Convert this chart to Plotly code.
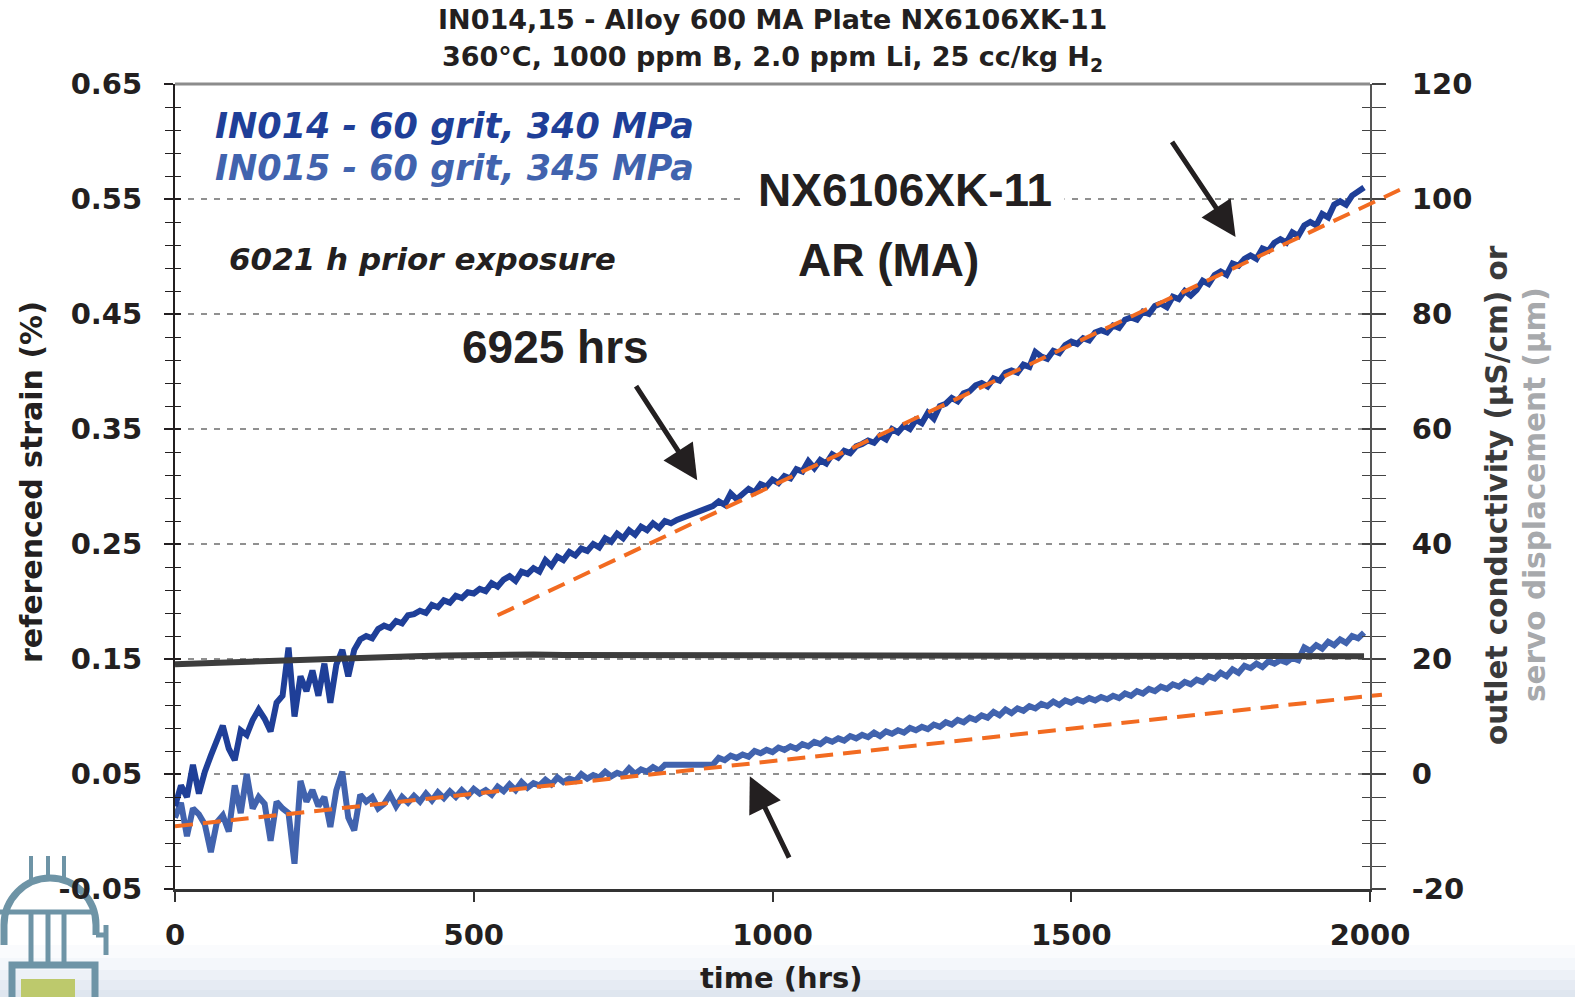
import plotly.graph_objects as go

# ---------------- data ----------------
# IN014 strain (%) - two segments (data gap between 840 h and 900 h)
t14_a = list(range(0, 850, 10))
in014_a = [0.022, 0.040, 0.030, 0.058, 0.033, 0.052, 0.066, 0.078, 0.092, 0.072,
           0.062, 0.088, 0.084, 0.097, 0.106, 0.098, 0.087, 0.112, 0.118, 0.160,
           0.100, 0.135, 0.122, 0.140, 0.118, 0.146, 0.112, 0.145, 0.158, 0.135,
           0.158, 0.167, 0.170, 0.168, 0.176, 0.179, 0.177, 0.183, 0.181, 0.188,
           0.189, 0.192, 0.190, 0.197, 0.195, 0.201, 0.199, 0.205, 0.203, 0.208,
           0.207, 0.211, 0.209, 0.216, 0.213, 0.219, 0.222, 0.218, 0.226, 0.224,
           0.229, 0.226, 0.236, 0.231, 0.239, 0.236, 0.243, 0.240, 0.246, 0.244,
           0.250, 0.247, 0.255, 0.252, 0.259, 0.255, 0.262, 0.258, 0.265, 0.262,
           0.268, 0.264, 0.270, 0.268, 0.271]
t14_b = list(range(900, 2000, 10))
in014_b = [0.283, 0.287, 0.284, 0.294, 0.289, 0.294, 0.298, 0.295, 0.302, 0.300,
           0.306, 0.303, 0.309, 0.307, 0.315, 0.313, 0.322, 0.316, 0.323, 0.320,
           0.328, 0.325, 0.331, 0.329, 0.335, 0.337, 0.340, 0.338, 0.344, 0.341,
           0.350, 0.347, 0.353, 0.350, 0.358, 0.355, 0.364, 0.359, 0.370, 0.372,
           0.377, 0.374, 0.381, 0.383, 0.388, 0.390, 0.387, 0.394, 0.392, 0.399,
           0.401, 0.399, 0.406, 0.404, 0.417, 0.413, 0.411, 0.418, 0.416, 0.423,
           0.426, 0.424, 0.429, 0.427, 0.434, 0.436, 0.434, 0.440, 0.438, 0.445,
           0.447, 0.445, 0.452, 0.450, 0.457, 0.459, 0.456, 0.465, 0.463, 0.470,
           0.466, 0.471, 0.479, 0.476, 0.484, 0.487, 0.484, 0.494, 0.492, 0.498,
           0.501, 0.498, 0.507, 0.505, 0.512, 0.515, 0.512, 0.521, 0.518, 0.527,
           0.530, 0.527, 0.537, 0.534, 0.545, 0.548, 0.545, 0.553, 0.556, 0.560]

# IN015 strain (%) - two segments (data gap between 820 h and 900 h)
t15_a = list(range(0, 830, 10))
in015_a = [0.012, 0.025, -0.004, 0.020, 0.015, 0.006, -0.018, 0.008, 0.014, 0.000,
           0.040, 0.016, 0.050, 0.020, 0.030, 0.024, -0.008, 0.026, 0.020, 0.016,
           -0.028, 0.044, 0.026, 0.036, 0.022, 0.030, 0.004, 0.036, 0.052, 0.012,
           0.001, 0.032, 0.026, 0.030, 0.020, 0.024, 0.032, 0.022, 0.030, 0.025,
           0.031, 0.026, 0.033, 0.027, 0.034, 0.029, 0.035, 0.030, 0.036, 0.031,
           0.037, 0.033, 0.036, 0.032, 0.039, 0.035, 0.041, 0.036, 0.043, 0.038,
           0.042, 0.040, 0.045, 0.041, 0.047, 0.043, 0.046, 0.044, 0.050, 0.046,
           0.049, 0.047, 0.052, 0.048, 0.051, 0.049, 0.055, 0.050, 0.054, 0.052,
           0.056, 0.053, 0.058]
t15_b = list(range(900, 2000, 10))
in015_b = [0.058, 0.064, 0.062, 0.066, 0.064, 0.067, 0.065, 0.070, 0.068, 0.071,
           0.069, 0.073, 0.071, 0.074, 0.072, 0.076, 0.074, 0.078, 0.076, 0.080,
           0.078, 0.081, 0.079, 0.083, 0.081, 0.084, 0.082, 0.086, 0.083, 0.087,
           0.085, 0.088, 0.086, 0.090, 0.088, 0.091, 0.089, 0.093, 0.091, 0.095,
           0.093, 0.097, 0.095, 0.099, 0.097, 0.101, 0.099, 0.104, 0.101, 0.106,
           0.103, 0.107, 0.105, 0.109, 0.107, 0.111, 0.109, 0.113, 0.110, 0.114,
           0.112, 0.115, 0.113, 0.116, 0.114, 0.117, 0.115, 0.118, 0.116, 0.120,
           0.118, 0.122, 0.120, 0.124, 0.122, 0.126, 0.124, 0.128, 0.126, 0.130,
           0.128, 0.132, 0.130, 0.135, 0.133, 0.138, 0.135, 0.141, 0.138, 0.144,
           0.142, 0.146, 0.143, 0.148, 0.146, 0.149, 0.147, 0.151, 0.149, 0.160,
           0.157, 0.162, 0.159, 0.165, 0.162, 0.167, 0.164, 0.170, 0.168, 0.173]

# outlet conductivity (uS/cm), right axis
t_cond = [0, 50, 100, 150, 200, 250, 300, 350, 400, 450, 500, 550, 600, 650, 700,
          750, 800, 850, 900, 950, 1000, 1050, 1100, 1150, 1200, 1250, 1300, 1350,
          1400, 1450, 1500, 1550, 1600, 1650, 1700, 1750, 1800, 1850, 1900, 1950, 1990]
cond = [19.1, 19.3, 19.4, 19.6, 19.8, 19.9, 20.1, 20.3, 20.5, 20.6, 20.7, 20.7, 20.8,
        20.7, 20.7, 20.7, 20.6, 20.7, 20.6, 20.7, 20.7, 20.6, 20.6, 20.7, 20.6, 20.6,
        20.6, 20.7, 20.6, 20.6, 20.6, 20.5, 20.6, 20.6, 20.5, 20.6, 20.6, 20.5, 20.6,
        20.5, 20.5]

# linear fits (dashed)
fit14_t = [540, 2050]
fit14_s = [0.188, 0.558]
fit15_t = [0, 2020]
fit15_s = [0.0045, 0.119]

x_ticks = [0, 500, 1000, 1500, 2000]
yl_ticks = [-0.05, 0.05, 0.15, 0.25, 0.35, 0.45, 0.55, 0.65]
yl_text = ["-0.05", "0.05", "0.15", "0.25", "0.35", "0.45", "0.55", "0.65"]
yr_ticks = [-20, 0, 20, 40, 60, 80, 100, 120]
yr_text = ["-20", "0", "20", "40", "60", "80", "100", "120"]

# ---------------- layout helpers ----------------
W, H = 1575, 997
ML, MR, MT, MB = 175, 165, 84, 108
PW = W - ML - MR
PH = H - MT - MB
XD = (1370 - ML) / PW          # main x-domain end (right axis at 1370 px)
X2MAX = 2000 / XD


def PX(x):
    return (x - ML) / PW


def PY(y):
    return (H - MB - y) / PH


C14 = "#1f3f98"
C15 = "#4163ae"
CORG = "#f26b21"
CDK = "#231f20"
TF = "DejaVu Sans"
AF = "Liberation Sans"

fig = go.Figure()

fig.add_trace(go.Scatter(x=t_cond, y=cond, xaxis="x", yaxis="y2", mode="lines",
                         line=dict(color="#3d3d3d", width=6), showlegend=False))
fig.add_trace(go.Scatter(x=t15_a + t15_b, y=in015_a + in015_b, mode="lines",
                         line=dict(color=C15, width=6), showlegend=False))
fig.add_trace(go.Scatter(x=t14_a + t14_b, y=in014_a + in014_b, mode="lines",
                         line=dict(color=C14, width=6), showlegend=False))
fig.add_trace(go.Scatter(x=fit14_t, y=fit14_s, xaxis="x2", yaxis="y", mode="lines",
                         line=dict(color=CORG, width=4, dash="18px,10px"), showlegend=False))
fig.add_trace(go.Scatter(x=fit15_t, y=fit15_s, xaxis="x2", yaxis="y", mode="lines",
                         line=dict(color=CORG, width=4, dash="18px,10px"), showlegend=False))
# dummy traces for tick-only overlay axes
fig.add_trace(go.Scatter(x=[None], y=[None], yaxis="y3", showlegend=False, hoverinfo="skip"))
fig.add_trace(go.Scatter(x=[None], y=[None], yaxis="y4", showlegend=False, hoverinfo="skip"))

tickfont = dict(family=TF, size=29, color=CDK, weight="bold")

fig.update_layout(
    width=W, height=H,
    margin=dict(l=ML, r=MR, t=MT, b=MB),
    paper_bgcolor="#ffffff", plot_bgcolor="rgba(0,0,0,0)",
    showlegend=False,
    xaxis=dict(domain=[0, XD], range=[0, 2000], tickmode="array", tickvals=x_ticks,
               ticks="outside", ticklen=10, tickwidth=2, tickcolor="#333333",
               showline=True, linecolor="#333333", linewidth=3, showgrid=False,
               zeroline=False, tickfont=tickfont, anchor="y", ticklabelstandoff=8),
    xaxis2=dict(domain=[0, 1], range=[0, X2MAX], visible=False, anchor="y"),
    yaxis=dict(range=[-0.05, 0.65], anchor="x", tickmode="array", tickvals=yl_ticks,
               ticktext=yl_text, ticks="outside", ticklen=9, tickwidth=1.5,
               tickcolor=CDK, showline=True, linecolor=CDK, linewidth=2,
               showgrid=False, zeroline=False, tickfont=tickfont,
               ticklabelstandoff=16,
               minor=dict(tickmode="linear", tick0=-0.05, dtick=0.02, ticks="outside",
                          ticklen=8, tickwidth=1.2, tickcolor=CDK, showgrid=False)),
    yaxis2=dict(range=[-20, 120], overlaying="y", side="right", anchor="x",
                tickmode="array", tickvals=yr_ticks, ticktext=yr_text,
                ticks="outside", ticklen=14, tickwidth=1.5, tickcolor="#444444",
                showline=True, linecolor="#555555", linewidth=2, showgrid=False,
                zeroline=False, tickfont=tickfont, ticklabelstandoff=20,
                minor=dict(tickmode="linear", tick0=-20, dtick=4, ticks="outside",
                           ticklen=14, tickwidth=1.2, tickcolor="#444444", showgrid=False)),
    yaxis3=dict(range=[-0.05, 0.65], overlaying="y", side="left", anchor="x",
                tickmode="array", tickvals=yl_ticks, ticks="inside", ticklen=6,
                tickwidth=1.5, tickcolor=CDK, showticklabels=False, showline=False,
                showgrid=False, zeroline=False,
                minor=dict(tickmode="linear", tick0=-0.05, dtick=0.02, ticks="inside",
                           ticklen=6, tickwidth=1.2, tickcolor=CDK, showgrid=False)),
    yaxis4=dict(range=[-20, 120], overlaying="y", side="right", anchor="x",
                tickmode="array", tickvals=yr_ticks, ticks="inside", ticklen=8,
                tickwidth=1.5, tickcolor="#444444", showticklabels=False,
                showline=False, showgrid=False, zeroline=False,
                minor=dict(tickmode="linear", tick0=-20, dtick=4, ticks="inside",
                           ticklen=8, tickwidth=1.2, tickcolor="#444444", showgrid=False)),
)

shapes = []
# bottom background gradient bands
grad = [(945, 958, "#fafbfd"), (958, 970, "#f4f7fb"), (970, 980, "#edf1f7"),
        (980, 990, "#e6ebf3"), (990, 998, "#dfe6ef")]
for y0, y1, c in grad:
    shapes.append(dict(type="rect", xref="paper", yref="paper", x0=PX(0), x1=PX(W),
                       y0=PY(y1), y1=PY(y0), fillcolor=c, line=dict(width=0), layer="below"))
# horizontal dashed grid lines at major left ticks
for v in yl_ticks[1:-1]:
    shapes.append(dict(type="line", xref="x", yref="y", x0=0, x1=2000, y0=v, y1=v,
                       line=dict(color="#222222", width=1.2, dash="6px,7px"), layer="below"))
# top border
shapes.append(dict(type="line", xref="paper", yref="paper", x0=0, x1=XD, y0=1, y1=1,
                   line=dict(color="#8c8c8c", width=3)))

# logo (decorative)
LB = "#6e94a6"
def seg(x0, y0, x1, y1, w):
    shapes.append(dict(type="line", xref="paper", yref="paper", x0=PX(x0), y0=PY(y0),
                       x1=PX(x1), y1=PY(y1), line=dict(color=LB, width=w), layer="below"))
for xc in (31, 48, 64):
    seg(xc, 856, xc, 880, 4)
    seg(xc, 912, xc, 966, 5)
seg(0, 912, 96, 912, 5)
arch = ("M {a},{b} L {c},{d} C {e},{f} {g},{h} {i},{j} C {k},{l} {m},{n} {o},{p} L {q},{r}"
        .format(a=PX(4), b=PY(945), c=PX(4), d=PY(925), e=PX(4), f=PY(899),
                g=PX(25), h=PY(878), i=PX(50), j=PY(878), k=PX(75), l=PY(878),
                m=PX(96), n=PY(899), o=PX(96), p=PY(925), q=PX(96), r=PY(935)))
shapes.append(dict(type="path", xref="paper", yref="paper", path=arch,
                   line=dict(color=LB, width=7), layer="below"))
seg(96, 935, 108, 935, 5)
seg(106, 925, 106, 955, 5)
shapes.append(dict(type="rect", xref="paper", yref="paper", x0=PX(12), x1=PX(95),
                   y0=PY(1002), y1=PY(965), line=dict(color=LB, width=7),
                   fillcolor="rgba(0,0,0,0)", layer="below"))
shapes.append(dict(type="rect", xref="paper", yref="paper", x0=PX(21), x1=PX(75),
                   y0=PY(1000), y1=PY(979), line=dict(width=0), fillcolor="#bdc96c",
                   layer="below"))
fig.update_layout(shapes=shapes)

ann = []
def txt(text, x, y, size, color=CDK, family=TF, xanchor="center", angle=0, **kw):
    ann.append(dict(text=text, x=PX(x), y=PY(y), xref="paper", yref="paper",
                    showarrow=False, xanchor=xanchor, yanchor="middle", textangle=angle,
                    font=dict(family=family, size=size, color=color), **kw))

txt("<b>IN014,15 - Alloy 600 MA Plate NX6106XK-11</b>", 772, 20, 27)
txt("<b>360°C, 1000 ppm B, 2.0 ppm Li, 25 cc/kg H<sub>2</sub></b>", 772, 58, 27)
txt("<b><i>IN014 - 60 grit, 340 MPa</i></b>", 213, 126, 35, color=C14, xanchor="left")
txt("<b><i>IN015 - 60 grit, 345 MPa</i></b>", 213, 168, 35, color=C15, xanchor="left")
txt("<b><i>6021 h prior exposure</i></b>", 227, 259, 31, xanchor="left")
txt("<b>NX6106XK-11</b>", 905, 190, 46, family=AF, bgcolor="#ffffff", borderpad=12)
txt("<b>AR (MA)</b>", 888, 260, 46, family=AF)
txt("<b>6925 hrs</b>", 555, 347, 46, family=AF)
txt("<b>time (hrs)</b>", 781, 978, 29)
txt("<b>referenced strain (%)</b>", 31, 482, 30, angle=-90)
txt("<b>outlet conductivity (µS/cm) or</b>", 1497, 495, 29.5, color="#3a3a3a", angle=-90)
txt("<b>servo displacement (µm)</b>", 1535, 495, 29.5, color="#a7a9ac", angle=-90)

arrows = [((770, 0.3885), (874, 0.3054)),
          ((1667, 0.601), (1775, 0.517)),
          ((1029, -0.024), (962, 0.048))]
for (tx, ty), (hx, hy) in arrows:
    ann.append(dict(x=hx, y=hy, ax=tx, ay=ty, xref="x", yref="y", axref="x", ayref="y",
                    text="", showarrow=True, arrowhead=2, arrowsize=1.4, arrowwidth=5,
                    arrowcolor=CDK, standoff=0))
fig.update_layout(annotations=ann)

fig.write_html("out.html", config={"displayModeBar": False},
               post_script="document.body.style.margin='0';document.body.style.overflow='hidden';")
